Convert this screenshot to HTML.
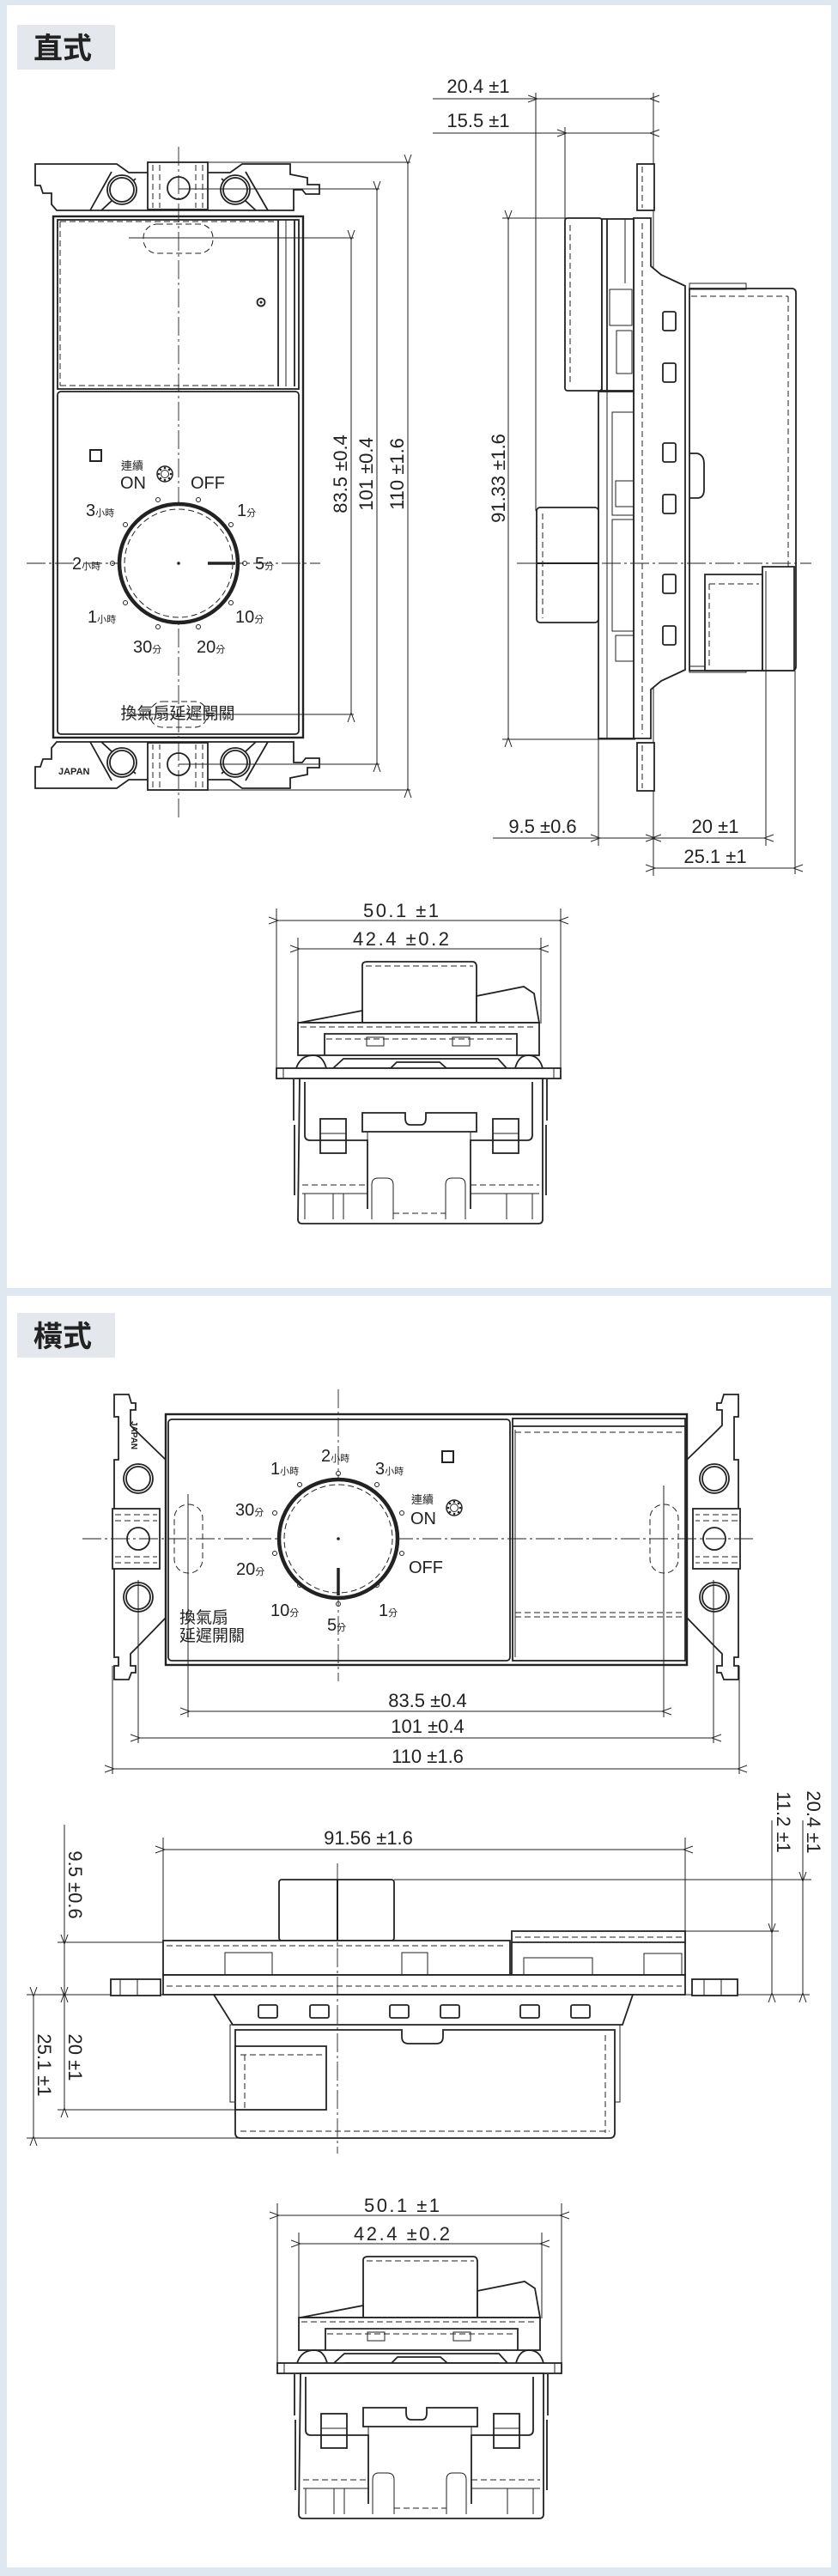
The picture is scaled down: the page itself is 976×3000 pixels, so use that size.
<!DOCTYPE html>
<html><head><meta charset="utf-8"><style>
html,body{margin:0;padding:0;background:#dfe8f1;}
svg{display:block;}
text{font-family:"Liberation Sans","Noto Sans CJK TC",sans-serif;fill:#222;}
.o{fill:#fff;stroke:#222;stroke-width:1.8;}
.n{fill:none;stroke:#222;stroke-width:1.8;}
.t{fill:none;stroke:#222;stroke-width:1;}
.d{fill:none;stroke:#222;stroke-width:1;stroke-dasharray:7 4;}
.c{fill:none;stroke:#222;stroke-width:0.9;stroke-dasharray:22 4 3 4;}
.dim{fill:none;stroke:#222;stroke-width:1;marker-start:url(#a);marker-end:url(#a);}
.dt{font-size:22px;}
.lb{font-size:20px;}
.sm{font-size:11px;}
</style></head><body>
<svg width="976" height="3000" viewBox="0 0 976 3000" xmlns="http://www.w3.org/2000/svg">
<defs>
<marker id="a" viewBox="0 0 12 10" refX="1" refY="5" markerWidth="12" markerHeight="10" markerUnits="userSpaceOnUse" orient="auto-start-reverse">
<path d="M12,1 L1,5 L12,9" fill="none" stroke="#222" stroke-width="1"/>
</marker>
<g id="gear"><circle r="9" fill="#fff" stroke="#222" stroke-width="1.5"/><circle r="4.5" fill="none" stroke="#222" stroke-width="1"/>
<g fill="#222"><circle cx="0" cy="-7" r="1.3"/><circle cx="0" cy="7" r="1.3"/><circle cx="7" cy="0" r="1.3"/><circle cx="-7" cy="0" r="1.3"/><circle cx="5" cy="5" r="1.3"/><circle cx="-5" cy="5" r="1.3"/><circle cx="5" cy="-5" r="1.3"/><circle cx="-5" cy="-5" r="1.3"/></g></g>
<g id="bv">
<!-- bottom view (panel 1 coords) -->
<line class="t" x1="322" y1="1058" x2="322" y2="1245"/><line class="t" x1="653" y1="1058" x2="653" y2="1245"/>
<line class="dim" x1="324" y1="1072" x2="651" y2="1072"/>
<text class="dt" x="467" y="1068" text-anchor="middle" textLength="88">50.1 ±1</text>
<line class="t" x1="347" y1="1092" x2="347" y2="1192"/><line class="t" x1="630" y1="1092" x2="630" y2="1192"/>
<line class="dim" x1="349" y1="1105" x2="628" y2="1105"/>
<text class="dt" x="467" y="1101" text-anchor="middle" textLength="112">42.4 ±0.2</text>
<path class="o" d="M422,1124 Q422,1120 428,1120 L550,1120 Q555,1120 555,1126 L555,1191 L422,1191 Z"/>
<line class="d" x1="426" y1="1125" x2="551" y2="1125"/>
<path class="o" d="M349,1191 L422,1177 L422,1191 Z"/><path class="o" d="M555,1191 L555,1160 L610,1149 L622,1157 L628,1191 Z"/>
<rect class="o" x="347" y="1191" width="281" height="38"/>
<line class="d" x1="350" y1="1196" x2="625" y2="1196"/>
<path class="n" d="M378,1229 V1204 H602 V1229"/>
<line class="d" x1="380" y1="1210" x2="600" y2="1210"/>
<rect class="t" x="427" y="1208" width="20" height="10"/><rect class="t" x="527" y="1208" width="20" height="10"/>
<path class="n" d="M345,1244 Q350,1229 365,1229 Q376,1229 380,1244 M600,1244 Q604,1229 615,1229 Q628,1229 632,1244"/>
<path class="n" d="M388,1244 L400,1233 H580 L590,1244 M400,1244 H455 L462,1237 H512 L520,1244 H580"/>
<rect class="o" x="322" y="1244" width="331" height="12"/>
<line class="t" x1="330" y1="1244" x2="330" y2="1256"/><line class="t" x1="645" y1="1244" x2="645" y2="1256"/>
<path class="o" d="M349,1256 L632,1256 L632,1420 Q632,1425 627,1425 L352,1425 Q347,1425 347,1420 Z"/>
<path class="n" d="M342,1257 V1305 M637,1257 V1305 M343,1310 V1392 M636,1310 V1392"/>
<path class="n" d="M355,1260 V1322 Q355,1328 361,1328 H428 V1408 M620,1260 V1322 Q620,1328 614,1328 H548 V1408"/>
<path class="n" d="M422,1318 V1296 H472 V1302 Q472,1310 478,1310 H490 Q496,1310 496,1302 V1296 H555 V1318 Z"/>
<path class="t" d="M428,1318 V1340 M548,1318 V1340"/>
<rect class="n" x="373" y="1303" width="30" height="40"/><line class="t" x1="373" y1="1320" x2="403" y2="1320"/>
<rect class="n" x="574" y="1303" width="30" height="40"/><line class="t" x1="574" y1="1320" x2="604" y2="1320"/>
<path class="t" d="M433,1420 V1380 Q433,1372 440,1372 H450 Q458,1372 458,1380 V1420 M519,1420 V1380 Q519,1372 526,1372 H535 Q542,1372 542,1380 V1420"/>
<line class="d" x1="352" y1="1380" x2="428" y2="1380"/><line class="d" x1="548" y1="1380" x2="628" y2="1380"/>
<line class="d" x1="458" y1="1413" x2="519" y2="1413"/>
<path class="t" d="M355,1390 V1420 M388,1390 V1420 M400,1390 V1420 M590,1390 V1420 M620,1390 V1420 M352,1390 H428 M548,1390 H628"/>
</g>
</defs>

<!-- panels -->
<rect x="8" y="6" width="960" height="1494" fill="#fff"/>
<rect x="8" y="1509" width="960" height="1481" fill="#fff"/>
<rect x="20" y="29" width="114" height="52" fill="#e4e7eb"/>
<text x="39" y="68" font-size="34" font-weight="bold" fill="#333">直式</text>
<rect x="20" y="1529" width="114" height="52" fill="#e4e7eb"/>
<text x="39" y="1568" font-size="34" font-weight="bold" fill="#333">橫式</text>

<!-- ===== PANEL 1 FRONT ===== -->
<g id="brk">
<path class="o" d="M41,191 H136 L150,201 H268 L282,191 H338 V203 L358,207 V215 H372 V226 H356 L352,221 H342 V245 H66 L60,238 V225 H50 L47,216 H41 Z"/>
<path class="n" d="M158,208 L118,245 M130,200 L105,245 M258,208 L298,245 M286,200 L312,245"/>
<rect class="o" x="172" y="189" width="70" height="55"/>
<line class="d" x1="178" y1="192" x2="178" y2="242"/><line class="d" x1="236" y1="192" x2="236" y2="242"/>
<line class="d" x1="186" y1="192" x2="186" y2="242"/><line class="d" x1="228" y1="192" x2="228" y2="242"/>
<circle class="o" cx="142" cy="221" r="17"/><circle class="n" cx="142" cy="221" r="14"/>
<circle class="o" cx="274" cy="221" r="17"/><circle class="n" cx="274" cy="221" r="14"/>
<circle class="o" cx="208" cy="219" r="13"/>
</g>
<use href="#brk" transform="translate(0,1109) scale(1,-1)"/>
<text x="68" y="902" font-size="11" font-weight="bold">JAPAN</text>
<rect class="o" x="62" y="252" width="291" height="607" style="stroke-width:2.4"/>
<rect class="n" x="67" y="256" width="281" height="197"/>
<line class="n" x1="324" y1="256" x2="324" y2="450"/><line class="t" x1="333" y1="256" x2="333" y2="450"/><line class="n" x1="343" y1="256" x2="343" y2="450"/>
<line class="d" x1="70" y1="258" x2="320" y2="258"/><line class="d" x1="70" y1="449" x2="320" y2="449"/>
<line class="d" x1="70" y1="258" x2="70" y2="449"/>
<rect class="d" x="167" y="261" width="81" height="34" rx="16"/>
<circle class="n" cx="304" cy="352" r="4.5"/><circle cx="304" cy="352" r="1.5" fill="#222"/>
<rect class="o" x="67" y="456" width="281" height="399" rx="4"/>
<!-- centre lines -->
<line class="c" x1="208" y1="171" x2="208" y2="953"/>
<line class="c" x1="31" y1="656" x2="373" y2="656"/>
<line class="t" x1="150" y1="277" x2="412" y2="277"/>
<line class="t" x1="208" y1="220" x2="442" y2="220"/>
<line class="t" x1="240" y1="189" x2="478" y2="189"/>
<line class="t" x1="150" y1="832" x2="412" y2="832"/>
<line class="t" x1="208" y1="890" x2="442" y2="890"/>
<line class="t" x1="240" y1="920" x2="478" y2="920"/>
<line class="dim" x1="409" y1="279" x2="409" y2="830"/>
<line class="dim" x1="439" y1="222" x2="439" y2="888"/>
<line class="dim" x1="475" y1="191" x2="475" y2="918"/>
<text class="dt" transform="translate(404,552) rotate(-90)" text-anchor="middle">83.5 ±0.4</text>
<text class="dt" transform="translate(434,552) rotate(-90)" text-anchor="middle">101 ±0.4</text>
<text class="dt" transform="translate(470,552) rotate(-90)" text-anchor="middle">110 ±1.6</text>
<!-- dial -->
<circle cx="208" cy="656" r="69" fill="#fff" stroke="#222" stroke-width="4.5"/>
<circle class="d" cx="208" cy="656" r="63"/>
<line x1="242" y1="656" x2="274" y2="656" stroke="#222" stroke-width="3.5"/>
<circle cx="208" cy="656" r="1.8" fill="#222"/>
<g class="t" fill="#fff"><circle cx="184" cy="582" r="2.5"/><circle cx="231" cy="582" r="2.5"/><circle cx="146" cy="611" r="2.5"/><circle cx="269" cy="611" r="2.5"/><circle cx="131" cy="656" r="2.5"/><circle cx="285" cy="656" r="2.5"/><circle cx="146" cy="702" r="2.5"/><circle cx="269" cy="702" r="2.5"/><circle cx="184" cy="730" r="2.5"/><circle cx="231" cy="730" r="2.5"/></g>
<rect x="105" y="524" width="13" height="13" fill="#fff" stroke="#222" stroke-width="2"/>
<use href="#gear" x="192" y="552"/>
<text x="141" y="547" font-size="13">連續</text>
<text x="140" y="569" class="lb">ON</text>
<text x="222" y="569" class="lb">OFF</text>
<text x="100" y="601" class="lb">3<tspan class="sm">小時</tspan></text>
<text x="276" y="601" class="lb">1<tspan class="sm">分</tspan></text>
<text x="84" y="663" class="lb">2<tspan class="sm">小時</tspan></text>
<text x="297" y="663" class="lb">5<tspan class="sm">分</tspan></text>
<text x="102" y="725" class="lb">1<tspan class="sm">小時</tspan></text>
<text x="274" y="725" class="lb">10<tspan class="sm">分</tspan></text>
<text x="155" y="760" class="lb">30<tspan class="sm">分</tspan></text>
<text x="229" y="760" class="lb">20<tspan class="sm">分</tspan></text>
<text x="207" y="837" font-size="19" text-anchor="middle">換氣扇延遲開關</text>
<rect class="d" x="175" y="817" width="66" height="30" rx="14"/>

<!-- ===== PANEL 1 SIDE ===== -->
<line class="t" x1="504" y1="115" x2="624" y2="115"/>
<line class="dim" x1="626" y1="115" x2="757" y2="115"/>
<text class="dt" x="557" y="108" text-anchor="middle">20.4 ±1</text>
<line class="t" x1="504" y1="155" x2="658" y2="155"/>
<line class="dim" x1="660" y1="155" x2="757" y2="155"/>
<text class="dt" x="557" y="148" text-anchor="middle">15.5 ±1</text>
<line class="t" x1="624" y1="108" x2="624" y2="595"/>
<line class="t" x1="658" y1="148" x2="658" y2="256"/>
<line class="t" x1="761" y1="108" x2="761" y2="1020"/>
<line class="t" x1="585" y1="254" x2="660" y2="254"/>
<line class="t" x1="585" y1="861" x2="740" y2="861"/>
<line class="dim" x1="592" y1="256" x2="592" y2="859"/>
<text class="dt" transform="translate(588,557) rotate(-90)" text-anchor="middle">91.33 ±1.6</text>
<!-- frame tabs -->
<rect class="o" x="742" y="191" width="20" height="54"/><line class="d" x1="748" y1="194" x2="748" y2="242"/>
<rect class="o" x="742" y="865" width="20" height="56"/><line class="d" x1="748" y1="868" x2="748" y2="918"/>
<!-- main plate with step -->
<path class="o" d="M738,254 H758 V310 L770,320 L798,333 V780 L770,793 L758,803 V860 H738 Z"/>
<line class="d" x1="748" y1="260" x2="748" y2="855"/>
<path class="o" d="M803,336 H922 Q927,336 927,341 V776 Q927,781 922,781 H803 Z"/>
<line class="d" x1="805" y1="345" x2="918" y2="345"/><line class="d" x1="918" y1="345" x2="918" y2="776"/>
<path class="n" d="M803,528 H812 Q820,530 820,540 V570 Q820,580 812,580 H803"/>
<rect class="t" x="803" y="330" width="66" height="7"/>
<rect class="t" x="803" y="776" width="66" height="7"/>
<g class="n"><rect x="772" y="363" width="15" height="22" rx="2"/><rect x="772" y="423" width="15" height="22" rx="2"/><rect x="772" y="516" width="15" height="22" rx="2"/><rect x="772" y="576" width="15" height="22" rx="2"/><rect x="772" y="669" width="15" height="22" rx="2"/><rect x="772" y="729" width="15" height="22" rx="2"/></g>
<path class="o" d="M821,669 H888 V781 H821 Z"/>
<line class="d" x1="826" y1="680" x2="884" y2="680"/><line class="d" x1="826" y1="680" x2="826" y2="776"/>
<path class="o" d="M888,660 H925 V781 H888 Z"/>
<!-- cover & internals -->
<rect class="o" x="658" y="254" width="43" height="201" rx="3"/>
<line class="d" x1="664" y1="262" x2="664" y2="448"/>
<rect class="o" x="701" y="255" width="37" height="200"/>
<line class="n" x1="707" y1="255" x2="707" y2="455"/><line class="t" x1="728" y1="255" x2="728" y2="330"/>
<rect class="t" x="710" y="337" width="26" height="42"/><rect class="t" x="718" y="385" width="18" height="50"/>
<rect class="o" x="697" y="456" width="41" height="404"/>
<line class="t" x1="707" y1="456" x2="707" y2="860"/>
<rect class="t" x="713" y="480" width="25" height="120"/><rect class="t" x="713" y="605" width="25" height="130"/>
<rect class="t" x="717" y="740" width="21" height="30"/><rect class="t" x="717" y="560" width="21" height="30"/>
<rect class="o" x="625" y="591" width="72" height="134" rx="4"/>
<line class="d" x1="632" y1="598" x2="632" y2="720"/>
<line class="c" x1="602" y1="656" x2="945" y2="656"/>
<line x1="625" y1="656" x2="697" y2="656" stroke="#222" stroke-width="2"/>
<!-- bottom dims side -->
<line class="t" x1="697" y1="725" x2="697" y2="985"/>
<line class="t" x1="892" y1="665" x2="892" y2="985"/>
<line class="t" x1="926" y1="781" x2="926" y2="1018"/>
<line class="t" x1="574" y1="976" x2="697" y2="976"/>
<line class="dim" x1="699" y1="976" x2="759" y2="976"/>
<line class="dim" x1="763" y1="976" x2="890" y2="976"/>
<line class="dim" x1="763" y1="1011" x2="924" y2="1011"/>
<text class="dt" x="632" y="970" text-anchor="middle">9.5 ±0.6</text>
<text class="dt" x="833" y="970" text-anchor="middle">20 ±1</text>
<text class="dt" x="833" y="1005" text-anchor="middle">25.1 ±1</text>

<!-- ===== PANEL 1 BOTTOM ===== -->
<use href="#bv"/>

<!-- ===== PANEL 2 FRONT ===== -->
<g id="brk2">
<path class="o" d="M133,1624 H150 L153,1634 H158 V1642 H152 V1660 L160,1668 L193,1700 V1884 L160,1918 L152,1926 V1940 H158 V1948 H153 L150,1956 H133 V1940 H138 V1930 H133 V1700 H138 V1650 H133 Z"/>
<rect class="o" x="131" y="1757" width="55" height="70"/>
<line class="d" x1="134" y1="1764" x2="183" y2="1764"/><line class="d" x1="134" y1="1820" x2="183" y2="1820"/>
<line class="d" x1="134" y1="1771" x2="183" y2="1771"/><line class="d" x1="134" y1="1813" x2="183" y2="1813"/>
<circle class="o" cx="161" cy="1722" r="17"/><circle class="n" cx="161" cy="1722" r="14"/>
<circle class="o" cx="161" cy="1860" r="17"/><circle class="n" cx="161" cy="1860" r="14"/>
<circle class="o" cx="161" cy="1792" r="13"/>
</g>
<use href="#brk2" transform="translate(993,0) scale(-1,1)"/>
<text transform="translate(153,1655) rotate(90)" font-size="10" font-weight="bold">JAPAN</text>
<rect class="o" x="193" y="1647" width="607" height="292" style="stroke-width:2.4"/>
<rect class="o" x="196" y="1653" width="398" height="281" rx="4"/>
<rect class="n" x="597" y="1652" width="201" height="282"/>
<line class="n" x1="597" y1="1661" x2="798" y2="1661"/>
<line class="d" x1="600" y1="1668" x2="796" y2="1668"/>
<line class="d" x1="600" y1="1878" x2="796" y2="1878"/>
<line class="d" x1="600" y1="1883" x2="796" y2="1883"/>
<line class="t" x1="600" y1="1665" x2="600" y2="1930"/>
<rect class="d" x="203" y="1752" width="33" height="80" rx="16"/>
<rect class="d" x="757" y="1752" width="33" height="80" rx="16"/>
<line class="c" x1="394" y1="1618" x2="394" y2="1958"/>
<line class="c" x1="96" y1="1792" x2="880" y2="1792"/>
<line class="t" x1="219" y1="1740" x2="219" y2="2000"/><line class="t" x1="773" y1="1730" x2="773" y2="2000"/>
<line class="t" x1="161" y1="1840" x2="161" y2="2030"/><line class="t" x1="831" y1="1840" x2="831" y2="2030"/>
<line class="t" x1="131" y1="1940" x2="131" y2="2066"/><line class="t" x1="861" y1="1940" x2="861" y2="2066"/>
<line class="dim" x1="221" y1="1993" x2="771" y2="1993"/>
<line class="dim" x1="163" y1="2024" x2="829" y2="2024"/>
<line class="dim" x1="133" y1="2060" x2="859" y2="2060"/>
<text class="dt" x="498" y="1988" text-anchor="middle">83.5 ±0.4</text>
<text class="dt" x="498" y="2018" text-anchor="middle">101 ±0.4</text>
<text class="dt" x="498" y="2053" text-anchor="middle">110 ±1.6</text>
<!-- dial 2 -->
<circle cx="394" cy="1792" r="69" fill="#fff" stroke="#222" stroke-width="4.5"/>
<circle class="d" cx="394" cy="1792" r="63"/>
<line x1="394" y1="1826" x2="394" y2="1858" stroke="#222" stroke-width="3.5"/>
<circle cx="394" cy="1792" r="1.8" fill="#222"/>
<g class="t" fill="#fff"><circle cx="394" cy="1716" r="2.5"/><circle cx="349" cy="1729" r="2.5"/><circle cx="439" cy="1729" r="2.5"/><circle cx="320" cy="1762" r="2.5"/><circle cx="468" cy="1762" r="2.5"/><circle cx="320" cy="1809" r="2.5"/><circle cx="468" cy="1809" r="2.5"/><circle cx="349" cy="1846" r="2.5"/><circle cx="439" cy="1846" r="2.5"/><circle cx="394" cy="1868" r="2.5"/></g>
<rect x="515" y="1690" width="13" height="13" fill="#fff" stroke="#222" stroke-width="2"/>
<use href="#gear" x="529" y="1756"/>
<text x="479" y="1751" font-size="13">連續</text>
<text x="478" y="1775" class="lb">ON</text>
<text x="476" y="1832" class="lb">OFF</text>
<text x="374" y="1702" class="lb">2<tspan class="sm">小時</tspan></text>
<text x="315" y="1717" class="lb">1<tspan class="sm">小時</tspan></text>
<text x="437" y="1717" class="lb">3<tspan class="sm">小時</tspan></text>
<text x="274" y="1765" class="lb">30<tspan class="sm">分</tspan></text>
<text x="275" y="1834" class="lb">20<tspan class="sm">分</tspan></text>
<text x="315" y="1882" class="lb">10<tspan class="sm">分</tspan></text>
<text x="441" y="1882" class="lb">1<tspan class="sm">分</tspan></text>
<text x="381" y="1899" class="lb">5<tspan class="sm">分</tspan></text>
<text x="209" y="1890" font-size="19">換氣扇</text>
<text x="209" y="1911" font-size="19">延遲開關</text>

<!-- ===== PANEL 2 SIDE ===== -->
<line class="t" x1="190" y1="2140" x2="190" y2="2262"/><line class="t" x1="798" y1="2140" x2="798" y2="2250"/>
<line class="dim" x1="192" y1="2154" x2="796" y2="2154"/>
<text class="dt" x="429" y="2148" text-anchor="middle">91.56 ±1.6</text>
<line class="t" x1="459" y1="2189" x2="945" y2="2189"/>
<line class="t" x1="798" y1="2249" x2="907" y2="2249"/>
<line class="t" x1="67" y1="2262" x2="190" y2="2262"/>
<line class="t" x1="31" y1="2323" x2="943" y2="2323"/>
<line class="t" x1="67" y1="2457" x2="280" y2="2457"/>
<line class="t" x1="31" y1="2490" x2="280" y2="2490"/>
<line class="t" x1="935" y1="2120" x2="935" y2="2323"/><line class="t" x1="899" y1="2120" x2="899" y2="2323"/>
<line class="t" x1="75" y1="2125" x2="75" y2="2262"/>
<line class="dim" x1="935" y1="2191" x2="935" y2="2321"/>
<line class="dim" x1="899" y1="2251" x2="899" y2="2321"/>
<line class="dim" x1="75" y1="2264" x2="75" y2="2321"/>
<line class="dim" x1="75" y1="2325" x2="75" y2="2455"/>
<line class="dim" x1="39" y1="2325" x2="39" y2="2488"/>
<text class="dt" transform="translate(940,2122) rotate(90)" text-anchor="middle">20.4 ±1</text>
<text class="dt" transform="translate(905,2122) rotate(90)" text-anchor="middle">11.2 ±1</text>
<text class="dt" transform="translate(80,2195) rotate(90)" text-anchor="middle">9.5 ±0.6</text>
<text class="dt" transform="translate(80,2396) rotate(90)" text-anchor="middle">20 ±1</text>
<text class="dt" transform="translate(44,2405) rotate(90)" text-anchor="middle">25.1 ±1</text>
<rect class="o" x="325" y="2189" width="134" height="71" rx="3"/>
<rect class="o" x="190" y="2260" width="404" height="40"/>
<line class="d" x1="194" y1="2266" x2="590" y2="2266"/>
<rect class="o" x="596" y="2249" width="202" height="51"/>
<line class="n" x1="596" y1="2262" x2="798" y2="2262"/><line class="d" x1="600" y1="2256" x2="794" y2="2256"/>
<rect class="t" x="262" y="2274" width="55" height="26"/><rect class="t" x="468" y="2274" width="30" height="26"/>
<rect class="t" x="610" y="2280" width="80" height="20"/><rect class="t" x="750" y="2275" width="44" height="25"/>
<rect class="o" x="190" y="2300" width="608" height="23"/>
<line class="d" x1="194" y1="2313" x2="794" y2="2313"/>
<rect class="o" x="129" y="2305" width="58" height="19"/><rect class="o" x="806" y="2305" width="53" height="19"/>
<line class="t" x1="140" y1="2305" x2="140" y2="2324"/><line class="t" x1="160" y1="2305" x2="160" y2="2324"/><line class="t" x1="820" y1="2305" x2="820" y2="2324"/><line class="t" x1="840" y1="2305" x2="840" y2="2324"/>
<path class="o" d="M249,2323 L271,2358 H725 L737,2323 Z"/>
<g class="n"><rect x="301" y="2335" width="22" height="15" rx="2"/><rect x="361" y="2335" width="22" height="15" rx="2"/><rect x="454" y="2335" width="22" height="15" rx="2"/><rect x="513" y="2335" width="22" height="15" rx="2"/><rect x="606" y="2335" width="22" height="15" rx="2"/><rect x="665" y="2335" width="22" height="15" rx="2"/></g>
<rect class="t" x="268" y="2358" width="454" height="90"/>
<path class="o" d="M274,2364 H468 V2372 Q468,2380 476,2380 H508 Q516,2380 516,2372 V2364 H716 V2484 Q716,2490 710,2490 H280 Q274,2490 274,2484 Z"/>
<line class="d" x1="705" y1="2370" x2="705" y2="2484"/>
<line class="d" x1="280" y1="2482" x2="710" y2="2482"/>
<path class="o" d="M274,2383 H380 V2457 H274 Z"/>
<line class="d" x1="280" y1="2393" x2="375" y2="2393"/><line class="d" x1="285" y1="2393" x2="285" y2="2455"/>
<line class="c" x1="393" y1="2170" x2="393" y2="2508"/>
<line x1="393" y1="2189" x2="393" y2="2260" stroke="#222" stroke-width="2"/>

<!-- ===== PANEL 2 BOTTOM ===== -->
<use href="#bv" transform="translate(1,1508)"/>
</svg>
</body></html>
